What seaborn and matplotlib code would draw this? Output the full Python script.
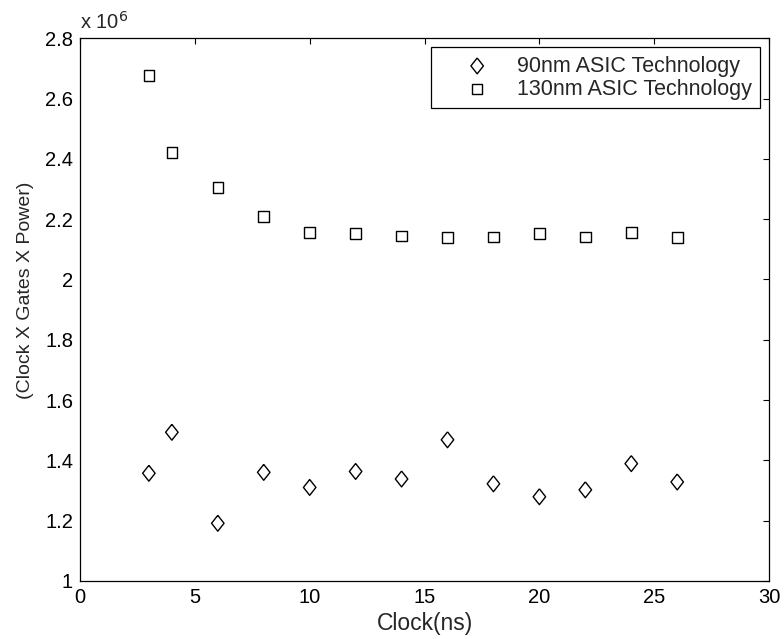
import numpy as np
import pandas as pd
import matplotlib
matplotlib.use('Agg')
import matplotlib.pyplot as plt
from matplotlib.ticker import FuncFormatter, MultipleLocator
import seaborn as sns

# data (y values in units of 10^6)
clock_ns = [3, 4, 6, 8, 10, 12, 14, 16, 18, 20, 22, 24, 26]
asic_90nm = [1.357, 1.493, 1.191, 1.360, 1.310, 1.363, 1.338, 1.468, 1.322,
             1.279, 1.302, 1.389, 1.328]
asic_130nm = [2.676, 2.421, 2.305, 2.208, 2.156, 2.153, 2.144, 2.139, 2.141,
              2.153, 2.141, 2.156, 2.139]
labels = ['90nm ASIC Technology', '130nm ASIC Technology']

sns.set_style('white')
plt.rcParams['font.family'] = ['Liberation Sans', 'DejaVu Sans']
plt.rcParams['font.size'] = 14.5

df = pd.DataFrame({'clock': clock_ns * 2,
                   'value': asic_90nm + asic_130nm,
                   'tech': [labels[0]] * len(clock_ns) + [labels[1]] * len(clock_ns)})

# matlab style diamond (a bit taller than wide)
diamond = [(0, 1), (0.79, 0), (0, -1), (-0.79, 0), (0, 1)]

fig = plt.figure(figsize=(7.84, 6.39), dpi=100)
ax = fig.add_axes([0.102, 0.091, 0.879, 0.849])

sns.scatterplot(data=df[df.tech == labels[0]], x='clock', y='value', ax=ax,
                marker=diamond, s=130, facecolor='none', edgecolor='black',
                linewidth=1.0, label=labels[0])
sns.scatterplot(data=df[df.tech == labels[1]], x='clock', y='value', ax=ax,
                marker='s', s=58, facecolor='none', edgecolor='black',
                linewidth=1.0, label=labels[1])

ax.set_xlim(0, 30)
ax.set_ylim(1, 2.8)
ax.xaxis.set_major_locator(MultipleLocator(5))
ax.yaxis.set_major_locator(MultipleLocator(0.2))
ax.yaxis.set_major_formatter(FuncFormatter(lambda v, p: '%g' % round(v, 2)))
ax.tick_params(direction='in', length=4, width=0.8, top=True, right=True,
               labelsize=14.5, colors='black', pad=5)
for sp in ax.spines.values():
    sp.set_color('black')
    sp.set_linewidth(0.9)

ax.set_xlabel('Clock(ns)', fontsize=16.5)
ax.set_ylabel('(Clock X Gates X Power)', fontsize=14)
ax.xaxis.set_label_coords(0.5, -0.058)
ax.yaxis.set_label_coords(-0.067, 0.536)
ax.text(0.0, 1.01, 'x 10$^{6}$', transform=ax.transAxes, fontsize=14.5,
        ha='left', va='bottom')

leg = ax.legend(loc='upper right', frameon=True, fancybox=False, shadow=False,
                framealpha=1, edgecolor='black', fontsize=15.5,
                borderaxespad=0.4, handletextpad=0.1, borderpad=0.4,
                labelspacing=0.1, handlelength=3.5)
leg.get_frame().set_linewidth(0.9)

fig.savefig('out.png', dpi=100)
